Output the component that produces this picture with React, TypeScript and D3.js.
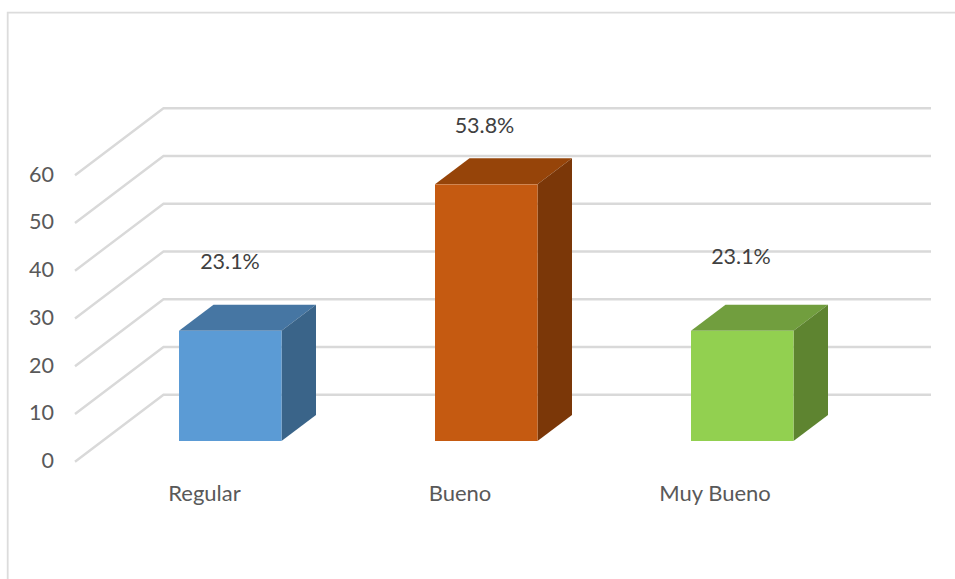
import React from "react";
import * as d3 from "d3";

const categories = ["Regular", "Bueno", "Muy Bueno"];
const values = [23.1, 53.8, 23.1];
const valueLabels = ["23.1%", "53.8%", "23.1%"];
const ticks = [0, 10, 20, 30, 40, 50, 60];
const frontColors = ["#5b9bd5", "#c55a11", "#92d050"];
const topColors = ["#4676a3", "#964409", "#719e3e"];
const sideColors = ["#3a6489", "#7b3708", "#5e8430"];
const labelXs = [230, 484.5, 741];
const labelYs = [261, 125, 256];
const catXs = [204.5, 460, 715];

const font = "Lato, Carlito, Calibri, sans-serif";

export default function App() {
  const y = d3.scaleLinear().domain([0, 60]).range([441, 441 - 60 * 4.77]);
  const floorY = 461.7;
  const yGrid = d3.scaleLinear().domain([0, 60]).range([floorY, floorY - 286.5]);
  const x = d3.scaleBand().domain(categories).range([179, 179 + 256 * 3]).paddingInner(0);
  const barW = 102.5;
  const depthX = 34.5;
  const depthY = 26;
  const backDx = 88.5;
  const backDy = 67;
  const line = d3.line();
  return (
    <svg
      width={955}
      height={579}
      style={{ position: "absolute", left: 0, top: 0, background: "#fff" }}
    >
      <path d="M7.7 579V12.7H955" fill="none" stroke="#dcdcdc" strokeWidth={1.8} />
      {ticks.map((t) => {
        const fy = yGrid(t);
        return (
          <g key={t}>
            <path
              d={line([[75, fy], [75 + backDx, fy - backDy], [931, fy - backDy]]) as string}
              fill="none"
              stroke="#d9d9d9"
              strokeWidth={2.4}
            />
            <text
              x={54}
              y={fy + 6.5}
              textAnchor="end"
              fontFamily={font}
              fontSize={21.5}
              fill="#595959"
            >
              {t}
            </text>
          </g>
        );
      })}
      {categories.map((c, i) => {
        const x0 = x(c) as number;
        const x1 = x0 + barW;
        const yt = y(values[i]);
        const yb = y(0);
        return (
          <g key={c}>
            <path
              d={(line([[x0, yt], [x0 + depthX, yt - depthY], [x1 + depthX, yt - depthY], [x1, yt]]) as string) + "Z"}
              fill={topColors[i]}
            />
            <path
              d={(line([[x1, yt], [x1 + depthX, yt - depthY], [x1 + depthX, yb - depthY], [x1, yb]]) as string) + "Z"}
              fill={sideColors[i]}
            />
            <rect x={x0} y={yt} width={barW} height={yb - yt} fill={frontColors[i]} />
            <text
              x={labelXs[i]}
              y={labelYs[i] + 7.5}
              textAnchor="middle"
              fontFamily={font}
              fontSize={21.5}
              fill="#404040"
            >
              {valueLabels[i]}
            </text>
            <text
              x={catXs[i]}
              y={500.5}
              textAnchor="middle"
              fontFamily={font}
              fontSize={22}
              fill="#595959"
            >
              {c}
            </text>
          </g>
        );
      })}
    </svg>
  );
}
